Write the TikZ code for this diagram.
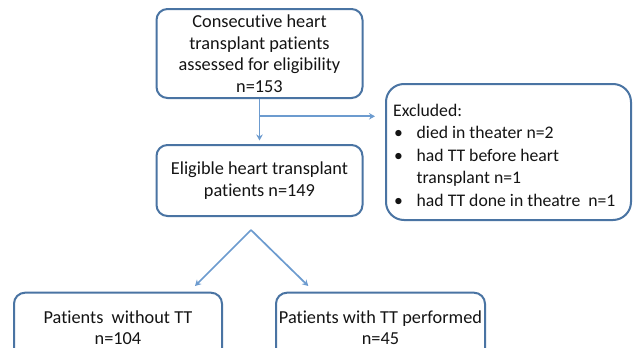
\documentclass[tikz,border=0pt]{standalone}
\usepackage{fontspec}
\setmainfont{Carlito}[Ligatures=NoCommon]
\usetikzlibrary{arrows.meta}
\definecolor{boxline}{HTML}{4A74A3}
\definecolor{arrowline}{HTML}{6C9BCF}
\definecolor{inktext}{HTML}{141414}
\tikzset{
  flowbox/.style={draw=boxline, line width=2pt, rounded corners=11pt,
    text=inktext, align=center, inner sep=0pt,
    font=\fontsize{18.3}{21.5}\selectfont},
  listtext/.style={text=inktext, align=left, inner sep=0pt,
    font=\fontsize{17.7}{22.4}\selectfont},
  flowarrow/.style={draw=arrowline, line width=1.7pt,
    -{Stealth[length=6pt,width=6.5pt]}}
}
% bullet column of the exclusion list
\newcommand{\bulletitem}{\makebox[23.5pt][l]{\hspace{1pt}•}}
\newcommand{\bulletgap}{\makebox[23.5pt][l]{}}
\begin{document}
\begin{tikzpicture}[x=1pt,y=-1pt]
\useasboundingbox (0,0) rectangle (633,348);
\fill[white] (0,0) rectangle (633,348);

% boxes
\node[flowbox, minimum width=206pt, minimum height=89pt] (assessed) at (259.5,53.5)
  {Consecutive heart\\transplant patients\\assessed for eligibility\\n=153};
\node[flowbox, minimum width=206pt, minimum height=71pt] (eligible) at (259.5,180.5)
  {Eligible heart transplant\\patients n=149};
\node[flowbox, rounded corners=18pt, minimum width=245pt, minimum height=136pt]
      (excluded) at (508.5,152) {};
% list text, placed by the baseline of its last line
\node[listtext, anchor=base west] (excludedlist) at (393,206)
  {Excluded:\\
   \bulletitem died in theater n=2\\
   \bulletitem had TT before heart\\
   \bulletgap transplant n=1\\
   \bulletitem had TT done in theatre\ \ n=1};
\node[flowbox, minimum width=208pt, minimum height=70pt] (without) at (118,327.7)
  {Patients\ \ without TT\\n=104};
\node[flowbox, minimum width=209pt, minimum height=70pt] (with) at (380.5,327.7)
  {Patients with TT performed\\n=45};

% connectors
\coordinate (split) at (assessed.south |- 0,116.3);
\draw[flowarrow, shorten >=3.5pt] (assessed.south) -- (eligible.north);
\draw[flowarrow, shorten >=10pt] (split) -- (excluded.west |- split);

\coordinate (apex) at (251,230);
\coordinate (leftend) at (195,286);
\coordinate (rightend) at (308.3,286);
\draw[flowarrow] (apex) -- (leftend);
\draw[flowarrow] (apex) -- (rightend);
\end{tikzpicture}
\end{document}
